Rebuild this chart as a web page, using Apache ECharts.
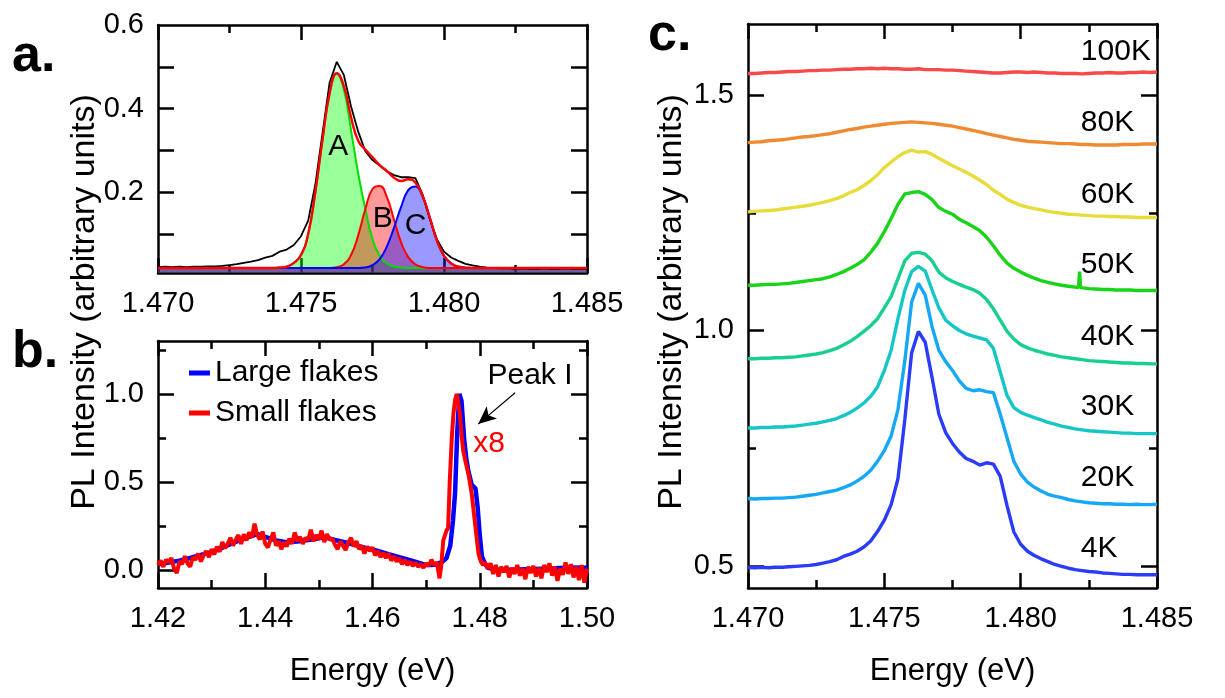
<!DOCTYPE html>
<html>
<head>
<meta charset="utf-8">
<script src="https://cdn.jsdelivr.net/npm/echarts@6/dist/echarts.min.js"></script>
<style>
  html, body { margin: 0; padding: 0; background: #fff; }
  #chart { width: 1225px; height: 698px; }
</style>
</head>
<body>
<div id="chart"></div>
<script>
// ---------- shared energy grid (eV) for panels a and c ----------
const energyGrid = [
  1.47, 1.47025, 1.4705, 1.47075, 1.471, 1.47125, 1.4715, 1.47175, 1.472, 1.47225,
  1.4725, 1.47275, 1.473, 1.47325, 1.4735, 1.47375, 1.474, 1.47425, 1.4745, 1.47475,
  1.475, 1.47525, 1.4755, 1.47575, 1.476, 1.47625, 1.4765, 1.47675, 1.477, 1.47725,
  1.4775, 1.47775, 1.478, 1.47825, 1.4785, 1.47875, 1.479, 1.47925, 1.4795, 1.47975,
  1.48, 1.48025, 1.4805, 1.48075, 1.481, 1.48125, 1.4815, 1.48175, 1.482, 1.48225,
  1.4825, 1.48275, 1.483, 1.48325, 1.4835, 1.48375, 1.484, 1.48425, 1.4845, 1.48475, 1.485
];

// ---------- panel a: measured spectrum and three-peak fit ----------
const measuredA = [
  0.021, 0.022, 0.021, 0.022, 0.021, 0.022, 0.022, 0.023, 0.023, 0.024,
  0.026, 0.028, 0.031, 0.034, 0.038, 0.044, 0.048, 0.058, 0.063, 0.074,
  0.095, 0.132, 0.218, 0.340, 0.462, 0.512, 0.480, 0.405, 0.345, 0.298,
  0.277, 0.264, 0.250, 0.241, 0.236, 0.236, 0.234, 0.195, 0.137, 0.088,
  0.058, 0.044, 0.036, 0.029, 0.025, 0.022, 0.020, 0.019, 0.018, 0.018,
  0.017, 0.018, 0.017, 0.017, 0.018, 0.017, 0.017, 0.018, 0.017, 0.017, 0.017
];
const energyFit = [
  1.470, 1.472, 1.473, 1.474, 1.47425, 1.4745, 1.47475, 1.475, 1.47525, 1.4755,
  1.47575, 1.476, 1.47625, 1.4765, 1.47675, 1.477, 1.47725, 1.4775, 1.47775, 1.478,
  1.47825, 1.4785, 1.47875, 1.479, 1.47925, 1.4795, 1.47975, 1.480, 1.48025, 1.4805,
  1.481, 1.482, 1.485
];
const peakA = [
  0.019, 0.019, 0.019, 0.019, 0.020, 0.022, 0.031, 0.050, 0.100, 0.200,
  0.325, 0.436, 0.483, 0.445, 0.348, 0.245, 0.160, 0.088, 0.048, 0.030,
  0.023, 0.020, 0.019, 0.019, 0.019, 0.019, 0.019, 0.019, 0.019, 0.019,
  0.019, 0.019, 0.019
];
const peakB = [
  0.019, 0.019, 0.019, 0.019, 0.019, 0.019, 0.019, 0.019, 0.019, 0.019,
  0.019, 0.019, 0.021, 0.028, 0.050, 0.097, 0.160, 0.208, 0.215, 0.189,
  0.135, 0.080, 0.045, 0.028, 0.021, 0.019, 0.019, 0.019, 0.019, 0.019,
  0.019, 0.019, 0.019
];
const peakC = [
  0.019, 0.019, 0.019, 0.019, 0.019, 0.019, 0.019, 0.019, 0.019, 0.019,
  0.019, 0.019, 0.019, 0.019, 0.019, 0.019, 0.020, 0.026, 0.040, 0.070,
  0.115, 0.165, 0.205, 0.214, 0.190, 0.140, 0.085, 0.048, 0.030, 0.022,
  0.019, 0.019, 0.019
];
const fitSum = [
  0.019, 0.019, 0.019, 0.019, 0.020, 0.022, 0.031, 0.050, 0.100, 0.200,
  0.325, 0.436, 0.485, 0.454, 0.379, 0.323, 0.302, 0.284, 0.265, 0.251,
  0.235, 0.227, 0.231, 0.223, 0.192, 0.140, 0.085, 0.048, 0.030, 0.022,
  0.019, 0.019, 0.019
];
const peakNames = ['A', 'B', 'C'];
const peakNameX = [1.4763, 1.47786, 1.47901];
const peakNameY = [0.308, 0.137, 0.121];

// ---------- panel b: large vs small flakes ----------
const energyLarge = [
  1.420, 1.422, 1.424, 1.426, 1.428, 1.430, 1.432, 1.434, 1.436, 1.438,
  1.4385, 1.440, 1.442, 1.444, 1.446, 1.448, 1.450, 1.451, 1.453, 1.455,
  1.457, 1.459, 1.461, 1.463, 1.465, 1.467, 1.469, 1.470, 1.471, 1.472,
  1.473, 1.4738, 1.4745, 1.4750, 1.4754, 1.4758, 1.4762, 1.4766, 1.4771, 1.4775,
  1.4779, 1.4785, 1.4792, 1.4796, 1.4800, 1.4804, 1.4810, 1.4815, 1.483, 1.486,
  1.490, 1.494, 1.497, 1.500
];
const intensityLarge = [
  0.035, 0.045, 0.055, 0.070, 0.088, 0.105, 0.128, 0.155, 0.180, 0.200,
  0.207, 0.190, 0.170, 0.160, 0.163, 0.172, 0.182, 0.188, 0.172, 0.158,
  0.142, 0.125, 0.110, 0.092, 0.075, 0.058, 0.040, 0.030, 0.030, 0.035,
  0.048, 0.070, 0.140, 0.280, 0.440, 0.780, 1.000, 0.960, 0.740, 0.630,
  0.560, 0.485, 0.465, 0.360, 0.200, 0.080, 0.035, 0.015, 0.005, 0.004,
  0.008, 0.012, 0.016, 0.015
];
const energySmall = [
  1.42, 1.4205, 1.421, 1.4215, 1.422, 1.4225, 1.423, 1.4235, 1.424, 1.4245,
  1.425, 1.4255, 1.426, 1.4265, 1.427, 1.4275, 1.428, 1.4285, 1.429, 1.4295,
  1.43, 1.4305, 1.431, 1.4315, 1.432, 1.4325, 1.433, 1.4335, 1.434, 1.4345,
  1.435, 1.4355, 1.436, 1.4365, 1.437, 1.4375, 1.438, 1.4385, 1.439, 1.4395,
  1.44, 1.4405, 1.441, 1.4415, 1.442, 1.4425, 1.443, 1.4435, 1.444, 1.4445,
  1.445, 1.4455, 1.446, 1.4465, 1.447, 1.4475, 1.448, 1.4485, 1.449, 1.4495,
  1.45, 1.4505, 1.451, 1.4515, 1.452, 1.4525, 1.453, 1.4535, 1.454, 1.4545,
  1.455, 1.4555, 1.456, 1.4565, 1.457, 1.4575, 1.458, 1.4585, 1.459, 1.4595,
  1.46, 1.4605, 1.461, 1.4615, 1.462, 1.4625, 1.463, 1.4635, 1.464, 1.4645,
  1.465, 1.4655, 1.466, 1.4665, 1.467, 1.4675, 1.468, 1.4685, 1.469, 1.4695,
  1.47, 1.4705, 1.471, 1.4715, 1.472, 1.4725,
  1.4728, 1.4732, 1.4738, 1.4741, 1.4744, 1.4748, 1.4751, 1.4754, 1.4757, 1.476,
  1.4763, 1.4766, 1.4769, 1.4774, 1.4779, 1.4785, 1.479, 1.4794, 1.4798, 1.4802,
  1.4806, 1.481,
  1.4815, 1.482, 1.4825, 1.483, 1.4835, 1.484, 1.4845, 1.485, 1.4855, 1.486,
  1.4865, 1.487, 1.4875, 1.488, 1.4885, 1.489, 1.4895, 1.49, 1.4905, 1.491,
  1.4915, 1.492, 1.4925, 1.493, 1.4935, 1.494, 1.4945, 1.495, 1.4955, 1.496,
  1.4965, 1.497, 1.4975, 1.498, 1.4985, 1.499, 1.4995, 1.5
];
const intensitySmall = [
  0.030, 0.055, 0.020, 0.060, 0.045, 0.070, 0.010, -0.015, 0.050, 0.035,
  0.080, 0.040, 0.020, 0.075, 0.060, 0.095, 0.050, 0.085, 0.110, 0.075,
  0.120, 0.090, 0.135, 0.105, 0.160, 0.125, 0.150, 0.185, 0.140, 0.175,
  0.200, 0.150, 0.205, 0.170, 0.215, 0.185, 0.265, 0.200, 0.175, 0.220,
  0.150, 0.130, 0.175, 0.215, 0.140, 0.165, 0.120, 0.160, 0.135, 0.180,
  0.150, 0.215, 0.165, 0.190, 0.150, 0.185, 0.170, 0.230, 0.165, 0.200,
  0.175, 0.225, 0.160, 0.205, 0.175, 0.180, 0.145, 0.120, 0.165, 0.140,
  0.115, 0.160, 0.185, 0.135, 0.165, 0.120, 0.140, 0.095, 0.135, 0.110,
  0.130, 0.085, 0.110, 0.075, 0.100, 0.070, 0.095, 0.055, 0.080, 0.050,
  0.070, 0.035, 0.060, 0.030, 0.050, 0.025, 0.045, 0.020, 0.035, 0.015,
  0.040, 0.025, 0.060, 0.030, 0.045, -0.045,
  0.020, 0.170, 0.225, 0.240, 0.500, 0.760, 0.890, 0.965, 1.000, 0.950,
  0.880, 0.770, 0.680, 0.610, 0.545, 0.435, 0.300, 0.190, 0.090, 0.050,
  0.030, 0.045,
  0.010, 0.040, -0.020, 0.030, -0.035, 0.020, -0.010, 0.025, -0.040, 0.015,
  -0.020, 0.030, -0.030, 0.010, -0.050, 0.020, -0.015, 0.025, -0.035, 0.015,
  -0.045, 0.030, -0.010, 0.040, -0.030, 0.020, -0.060, 0.010, -0.025, 0.045,
  -0.020, 0.035, -0.040, 0.020, -0.055, 0.030, -0.070, 0.010
];
const peakTag = ['Peak I', 1.48937, 1.102];
const scaleTag = ['x8', 1.48172, 0.7175];
const arrowFrom = [1.4866, 1.007];
const arrowTo = [1.4797, 0.829];

// ---------- panel c: temperature series (offset for clarity) ----------
const temperatures = ['4K', '20K', '30K', '40K', '50K', '60K', '80K', '100K'];
const tempColors = ['#2a3cf8', '#14a8f5', '#16c6c6', '#18cf8e', '#1ad41a', '#e6dc3a', '#f08a30', '#f84a4a'];
const pl4K = [
  0.497, 0.496, 0.497, 0.496, 0.497, 0.497, 0.498, 0.499, 0.500, 0.501,
  0.503, 0.506, 0.509, 0.513, 0.520, 0.525, 0.531, 0.540, 0.553, 0.573,
  0.597, 0.630, 0.685, 0.810, 0.952, 0.998, 0.975, 0.900, 0.822, 0.783,
  0.760, 0.742, 0.728, 0.722, 0.714, 0.719, 0.716, 0.690, 0.628, 0.572,
  0.546, 0.531, 0.522, 0.515, 0.509, 0.503, 0.499, 0.495, 0.492, 0.490,
  0.488, 0.487, 0.485, 0.484, 0.483, 0.482, 0.482, 0.481, 0.481, 0.481, 0.481
];
const pl20K = [
  0.643, 0.642, 0.643, 0.643, 0.644, 0.644, 0.645, 0.646, 0.648, 0.650,
  0.652, 0.655, 0.658, 0.661, 0.666, 0.672, 0.680, 0.690, 0.703, 0.722,
  0.745, 0.776, 0.832, 0.935, 1.060, 1.100, 1.075, 1.008, 0.958, 0.934,
  0.915, 0.893, 0.877, 0.872, 0.874, 0.870, 0.868, 0.822, 0.772, 0.722,
  0.695, 0.678, 0.667, 0.659, 0.652, 0.648, 0.645, 0.641, 0.638, 0.636,
  0.634, 0.633, 0.632, 0.632, 0.631, 0.631, 0.630, 0.631, 0.630, 0.630, 0.631
];
const pl30K = [
  0.793, 0.793, 0.794, 0.794, 0.795, 0.795, 0.796, 0.797, 0.799, 0.801,
  0.803, 0.806, 0.809, 0.813, 0.819, 0.826, 0.835, 0.846, 0.860, 0.880,
  0.915, 0.958, 1.025, 1.085, 1.125, 1.136, 1.126, 1.086, 1.048, 1.022,
  1.010, 1.000, 0.993, 0.988, 0.984, 0.980, 0.962, 0.912, 0.862, 0.836,
  0.826, 0.820, 0.815, 0.810, 0.805, 0.801, 0.797, 0.794, 0.791, 0.789,
  0.787, 0.786, 0.785, 0.784, 0.783, 0.782, 0.782, 0.781, 0.781, 0.781, 0.781
];
const pl40K = [
  0.940, 0.940, 0.941, 0.941, 0.942, 0.942, 0.943, 0.944, 0.946, 0.948,
  0.950, 0.953, 0.957, 0.962, 0.969, 0.977, 0.987, 0.998, 1.010, 1.025,
  1.048, 1.072, 1.110, 1.148, 1.164, 1.166, 1.162, 1.148, 1.124, 1.112,
  1.104, 1.098, 1.092, 1.087, 1.079, 1.066, 1.046, 1.022, 0.998, 0.982,
  0.970, 0.963, 0.958, 0.954, 0.950, 0.947, 0.944, 0.942, 0.940, 0.938,
  0.936, 0.935, 0.934, 0.933, 0.932, 0.931, 0.931, 0.930, 0.930, 0.929, 0.929
];
const pl50K = [
  1.096, 1.096, 1.097, 1.098, 1.098, 1.099, 1.100, 1.102, 1.104, 1.106,
  1.108, 1.110, 1.114, 1.119, 1.125, 1.132, 1.140, 1.150, 1.166, 1.185,
  1.210, 1.238, 1.268, 1.290, 1.293, 1.295, 1.289, 1.278, 1.261, 1.253,
  1.247, 1.236, 1.229, 1.221, 1.212, 1.198, 1.180, 1.160, 1.143, 1.132,
  1.124, 1.117, 1.111, 1.106, 1.102, 1.099, 1.096, 1.094, 1.092, 1.090,
  1.089, 1.088, 1.087, 1.087, 1.086, 1.086, 1.086, 1.085, 1.085, 1.085, 1.085
];
// narrow spurious spike in the 50K trace
const spike50K = [[1.48212, 1.091], [1.48216, 1.125], [1.4822, 1.091]];
const pl60K = [
  1.252, 1.253, 1.254, 1.255, 1.256, 1.258, 1.260, 1.262, 1.264, 1.266,
  1.269, 1.272, 1.276, 1.280, 1.286, 1.293, 1.299, 1.308, 1.318, 1.331,
  1.346, 1.358, 1.369, 1.378, 1.383, 1.379, 1.380, 1.374, 1.366, 1.358,
  1.350, 1.343, 1.336, 1.328, 1.319, 1.310, 1.298, 1.289, 1.279, 1.272,
  1.266, 1.262, 1.259, 1.256, 1.253, 1.251, 1.249, 1.247, 1.246, 1.245,
  1.244, 1.243, 1.243, 1.242, 1.242, 1.241, 1.241, 1.240, 1.240, 1.240, 1.240
];
const pl80K = [
  1.399, 1.400, 1.401, 1.403, 1.404, 1.405, 1.407, 1.409, 1.411, 1.412,
  1.414, 1.416, 1.418, 1.421, 1.424, 1.427, 1.429, 1.432, 1.434, 1.436,
  1.438, 1.440, 1.441, 1.442, 1.443, 1.442, 1.441, 1.440, 1.438, 1.436,
  1.434, 1.431, 1.428, 1.425, 1.422, 1.418, 1.415, 1.412, 1.409, 1.406,
  1.404, 1.402, 1.401, 1.400, 1.399, 1.398, 1.397, 1.397, 1.396, 1.395,
  1.395, 1.394, 1.394, 1.394, 1.394, 1.395, 1.395, 1.395, 1.396, 1.396, 1.396
];
const pl100K = [
  1.546, 1.546, 1.547, 1.548, 1.548, 1.549, 1.550, 1.550, 1.551, 1.552,
  1.552, 1.553, 1.553, 1.554, 1.555, 1.555, 1.556, 1.556, 1.557, 1.556,
  1.557, 1.556, 1.556, 1.555, 1.555, 1.556, 1.554, 1.554, 1.554, 1.553,
  1.553, 1.552, 1.551, 1.550, 1.549, 1.548, 1.547, 1.547, 1.548, 1.549,
  1.549, 1.548, 1.549, 1.548, 1.547, 1.547, 1.546, 1.546, 1.546, 1.545,
  1.546, 1.547, 1.547, 1.548, 1.547, 1.547, 1.548, 1.548, 1.549, 1.548, 1.549
];
const tempTraces = [pl4K, pl20K, pl30K, pl40K, pl50K, pl60K, pl80K, pl100K];
const tempLabelX = 1.48217;
const tempLabelY = [0.537, 0.687, 0.838, 0.987, 1.140, 1.289, 1.442, 1.593];

// ---------- helpers ----------
const FONT = '"Liberation Sans", Arial, Helvetica, sans-serif';
const INK = '#000';
const CLEAR = 'rgba(0,0,0,0)';
const pairs = (xs, ys) => xs.map((x, i) => [x, ys[i]]);

function xAxesFor(grid, min, max, interval, digits, name) {
  const common = {
    type: 'value', gridIndex: grid, min: min, max: max, interval: interval,
    axisLine: { show: true, onZero: false, lineStyle: { color: INK, width: 2.5 } },
    axisTick: { show: true, inside: true, length: 15, lineStyle: { color: INK, width: 2.5 } },
    minorTick: { show: true, splitNumber: 2, length: 8, lineStyle: { color: INK, width: 2.5 } },
    splitLine: { show: false }, minorSplitLine: { show: false }
  };
  const bottom = Object.assign({}, common, {
    position: 'bottom',
    axisLabel: {
      show: true, margin: 16, fontSize: 29, color: INK, fontFamily: FONT,
      showMinLabel: true, showMaxLabel: true,
      formatter: v => v.toFixed(digits)
    }
  });
  if (name) {
    Object.assign(bottom, {
      name: name, nameLocation: 'middle', nameGap: 68,
      nameTextStyle: { fontSize: 31, color: INK, fontFamily: FONT }
    });
  }
  const top = Object.assign({}, common, { position: 'top', axisLabel: { show: false } });
  return [bottom, top];
}

function yAxisFor(grid, side, min, max, ticks, tickLen, labels, drawLine) {
  return {
    type: 'value', gridIndex: grid, position: side, min: min, max: max,
    axisLine: { show: drawLine, onZero: false, lineStyle: { color: INK, width: 2.5 } },
    axisTick: { show: true, inside: true, length: tickLen, customValues: ticks,
                lineStyle: { color: INK, width: 2.5 } },
    axisLabel: labels ? {
      show: true, margin: 14, fontSize: 29, color: INK, fontFamily: FONT,
      customValues: labels, formatter: v => v.toFixed(1)
    } : { show: false },
    splitLine: { show: false }
  };
}

// text annotations sit on invisible scatter points
function textMarks(xi, yi, items, position, extraLabel) {
  return {
    type: 'scatter', xAxisIndex: xi, yAxisIndex: yi, symbolSize: 2,
    itemStyle: { color: CLEAR, opacity: 1 }, z: 6, silent: true,
    data: items,
    label: Object.assign({
      show: true, position: position, formatter: p => p.name,
      fontSize: 30, color: '#000', fontFamily: FONT, opacity: 1
    }, extraLabel || {})
  };
}

// ---------- axes ----------
const xAxes = [].concat(
  xAxesFor(0, 1.470, 1.485, 0.005, 3, null),
  xAxesFor(1, 1.42, 1.50, 0.02, 2, 'Energy (eV)'),
  xAxesFor(2, 1.470, 1.485, 0.005, 3, 'Energy (eV)')
);
const yAxes = [
  // panel a
  yAxisFor(0, 'left', 0.007, 0.6, [0.1, 0.2, 0.3, 0.4, 0.5], 16, [0.2, 0.4, 0.6], true),
  yAxisFor(0, 'right', 0.007, 0.6, [0.1, 0.2, 0.3, 0.4, 0.5], 16, null, true),
  // panel b
  yAxisFor(1, 'left', -0.1, 1.3, [0, 0.5, 1.0], 16, [0, 0.5, 1.0], true),
  yAxisFor(1, 'left', -0.1, 1.3, [0.25, 0.75, 1.25], 8, null, false),
  yAxisFor(1, 'right', -0.1, 1.3, [0, 0.5, 1.0], 16, null, true),
  yAxisFor(1, 'right', -0.1, 1.3, [0.25, 0.75, 1.25], 8, null, false),
  // panel c
  yAxisFor(2, 'left', 0.453, 1.651, [0.5, 1.0, 1.5], 16, [0.5, 1.0, 1.5], true),
  yAxisFor(2, 'left', 0.453, 1.651, [0.75, 1.25], 8, null, false),
  yAxisFor(2, 'right', 0.453, 1.651, [0.5, 1.0, 1.5], 16, null, true),
  yAxisFor(2, 'right', 0.453, 1.651, [0.75, 1.25], 8, null, false)
];

// ---------- series ----------
const series = [];

// panel a: filled fit components, measured curve, total fit
const components = [
  { data: peakA, line: '#00dd00', fill: '#00ff00' },
  { data: peakB, line: '#ff0000', fill: '#ff0000' },
  { data: peakC, line: '#0000ff', fill: '#0000ff' }
];
components.forEach(c => series.push({
  type: 'line', xAxisIndex: 0, yAxisIndex: 0, data: pairs(energyFit, c.data),
  showSymbol: false, smooth: 0.5, lineStyle: { color: c.line, width: 2 },
  itemStyle: { color: c.line },
  areaStyle: { color: c.fill, opacity: 0.4, origin: 'start' }, z: 2
}));
series.push({
  type: 'line', xAxisIndex: 0, yAxisIndex: 0, data: pairs(energyGrid, measuredA),
  showSymbol: false, lineStyle: { color: '#000', width: 1.8 }, z: 3
});
series.push({
  type: 'line', xAxisIndex: 0, yAxisIndex: 0, data: pairs(energyFit, fitSum),
  showSymbol: false, smooth: 0.5, lineStyle: { color: '#ff0000', width: 2.4 }, z: 4
});
series.push(textMarks(0, 0,
  peakNames.map((n, i) => ({ name: n, value: [peakNameX[i], peakNameY[i]] })), 'inside'));

// panel b: the two flake sizes
series.push({
  name: 'Large flakes', type: 'line', xAxisIndex: 2, yAxisIndex: 2,
  data: pairs(energyLarge, intensityLarge), showSymbol: false,
  itemStyle: { color: '#0000ff' }, lineStyle: { color: '#0000ff', width: 4.5 }
});
series.push({
  name: 'Small flakes', type: 'line', xAxisIndex: 2, yAxisIndex: 2,
  data: pairs(energySmall, intensitySmall), showSymbol: false,
  itemStyle: { color: '#ff0000' }, lineStyle: { color: '#ff0000', width: 4 },
  markLine: {
    silent: true, symbol: ['none', 'arrow'], symbolSize: [12, 18],
    label: { show: false },
    lineStyle: { color: '#000', width: 1.2, type: 'solid' },
    data: [[{ coord: arrowFrom }, { coord: arrowTo }]]
  }
});
series.push(textMarks(2, 2, [
  { name: peakTag[0], value: [peakTag[1], peakTag[2]] },
  { name: scaleTag[0], value: [scaleTag[1], scaleTag[2]], label: { color: '#ff0000' } }
], 'inside'));

// panel c: temperature dependence
temperatures.forEach((t, i) => {
  let data = pairs(energyGrid, tempTraces[i]);
  if (t === '50K') data = data.concat(spike50K).sort((a, b) => a[0] - b[0]);
  series.push({
    type: 'line', xAxisIndex: 4, yAxisIndex: 6, data: data, showSymbol: false,
    lineStyle: { color: tempColors[i], width: 3.4 }, itemStyle: { color: tempColors[i] }
  });
});
series.push(textMarks(4, 6,
  temperatures.map((t, i) => ({ name: t, value: [tempLabelX, tempLabelY[i]] })),
  'right', { distance: 0 }));

// ---------- chart ----------
const chart = echarts.init(document.getElementById('chart'), null, { renderer: 'canvas' });
chart.setOption({
  animation: false,
  backgroundColor: '#fff',
  textStyle: { fontFamily: FONT },
  grid: [
    { left: 158, top: 25, width: 429, height: 248, containLabel: false },
    { left: 158, top: 341, width: 429, height: 247, containLabel: false },
    { left: 748, top: 24, width: 409, height: 564, containLabel: false }
  ],
  xAxis: xAxes,
  yAxis: yAxes,
  legend: {
    data: ['Large flakes', 'Small flakes'], orient: 'vertical',
    left: 189, top: 358, padding: 0, itemGap: 10,
    itemWidth: 21, itemHeight: 5, icon: 'rect',
    textStyle: { fontSize: 30, color: '#000', fontFamily: FONT }
  },
  graphic: [
    { type: 'text', x: 12, y: 57, style: { text: 'a.', font: 'bold 52px ' + FONT, fill: '#000', verticalAlign: 'middle' } },
    { type: 'text', x: 12, y: 353, style: { text: 'b.', font: 'bold 52px ' + FONT, fill: '#000', verticalAlign: 'middle' } },
    { type: 'text', x: 648, y: 36, style: { text: 'c.', font: 'bold 52px ' + FONT, fill: '#000', verticalAlign: 'middle' } },
    { type: 'text', x: 85, y: 302, rotation: Math.PI / 2,
      style: { text: 'PL Intensity (arbitrary units)', font: '34px ' + FONT, fill: '#000', align: 'center', verticalAlign: 'middle' } },
    { type: 'text', x: 672, y: 302, rotation: Math.PI / 2,
      style: { text: 'PL Intensity (arbitrary units)', font: '34px ' + FONT, fill: '#000', align: 'center', verticalAlign: 'middle' } }
  ],
  series: series
});
</script>
</body>
</html>
